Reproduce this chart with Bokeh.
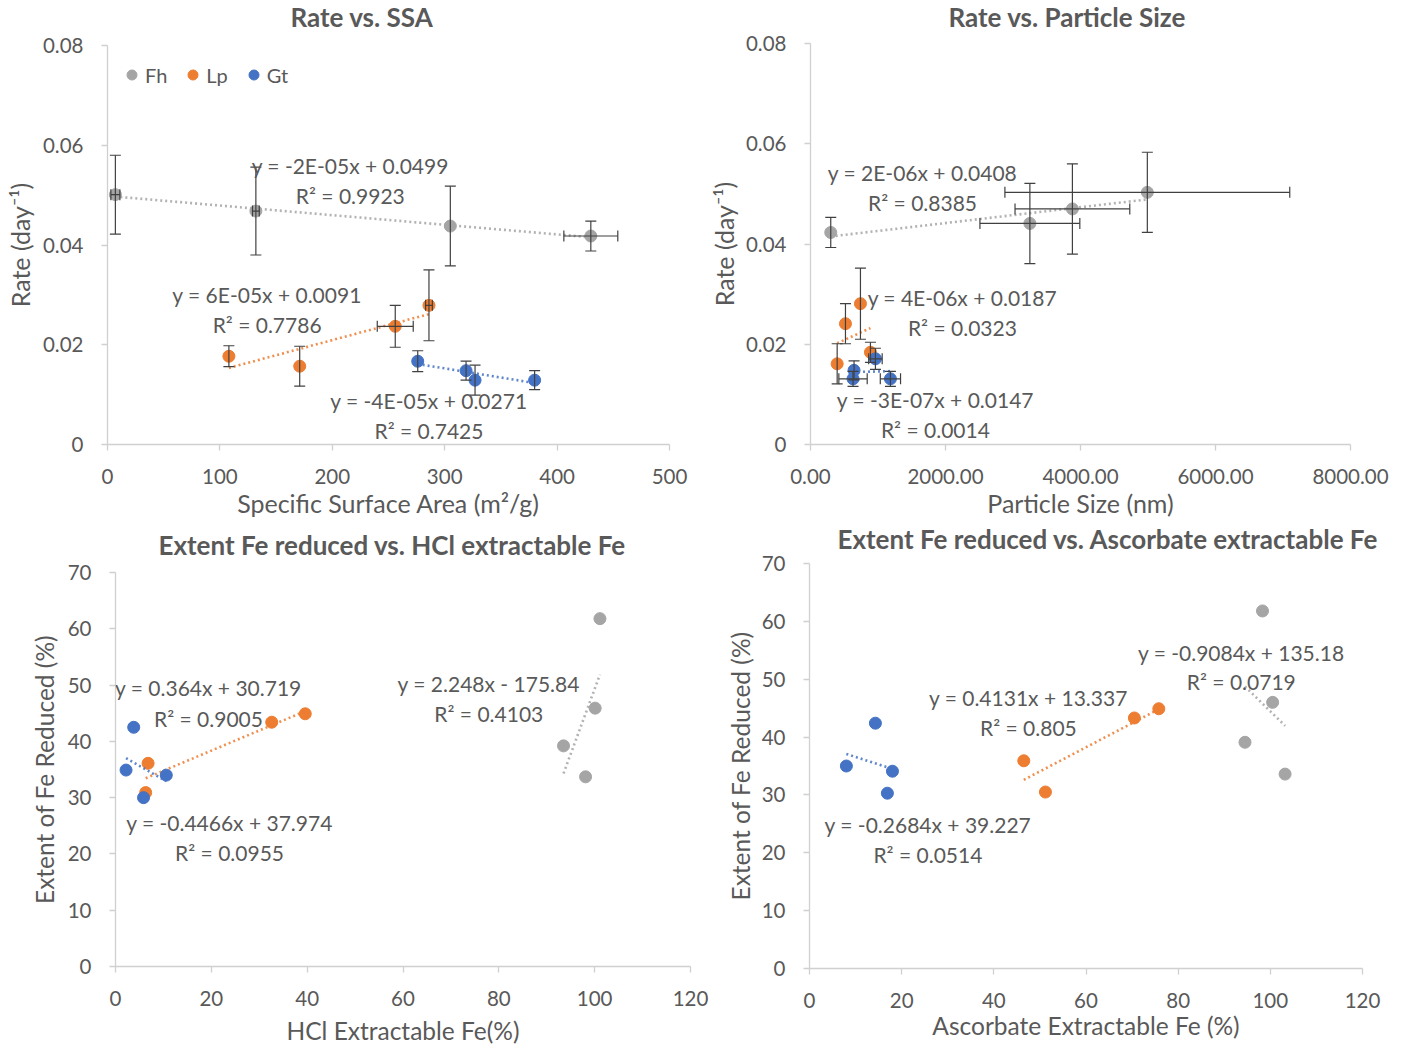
import numpy as np
from bokeh.plotting import figure
from bokeh.models import (ColumnDataSource, Whisker, TeeHead, Label, Legend, LegendItem,
                          FixedTicker, NumeralTickFormatter, Range1d, Title)
from bokeh.layouts import column, row
from bokeh.embed import file_html
from bokeh.resources import INLINE

FONT = "Lato"
C_FH, C_LP, C_GT = "#A5A5A5", "#ED7D31", "#4472C4"
TXT, AXC, ERR = "#595959", "#D0D0D0", "#404040"

# ---------------- data ----------------
series_names = ["Fh", "Lp", "Gt"]

# Panel 1: Rate vs SSA
ssa_fh = [7, 132, 305, 430]
rate_fh = [0.0501, 0.0468, 0.0438, 0.0418]
rate_fh_err = [0.0079, 0.0088, 0.0080, 0.0030]
ssa_fh_err = [4, 3, 0, 24]
ssa_lp = [108, 171, 256, 286]
rate_lp = [0.0177, 0.0157, 0.0237, 0.0279]
rate_lp_err = [0.0021, 0.0040, 0.0042, 0.0071]
ssa_lp_err = [0, 0, 16, 3]
ssa_gt = [276, 319, 327, 380]
rate_gt = [0.0167, 0.0148, 0.0129, 0.0129]
rate_gt_err = [0.0021, 0.0019, 0.0030, 0.0019]
ssa_gt_err = [0, 0, 0, 0]

# Panel 2: Rate vs particle size
size_fh = [300, 3250, 3880, 4990]
rate2_fh = [0.0423, 0.0441, 0.0470, 0.0503]
rate2_fh_err = [0.0030, 0.0080, 0.0090, 0.0080]
size_fh_err = [0, 740, 850, 2110]
size_lp = [395, 518, 740, 888]
rate2_lp = [0.0161, 0.0241, 0.0281, 0.0184]
rate2_lp_err = [0.0040, 0.0040, 0.0071, 0.0020]
size_lp_err = [0, 0, 0, 0]
size_gt = [630, 645, 962, 1184]
rate2_gt = [0.0131, 0.0148, 0.0171, 0.0131]
rate2_gt_err = [0.0015, 0.0019, 0.0021, 0.0015]
size_gt_err = [210, 0, 100, 150]

# Panel 3: extent reduced vs HCl extractable Fe
hcl_fh = [93.5, 98.1, 100.1, 101.1]
ext3_fh = [39.2, 33.7, 45.9, 61.8]
hcl_lp = [6.3, 6.8, 32.6, 39.6]
ext3_lp = [30.9, 36.1, 43.4, 44.9]
hcl_gt = [2.2, 3.8, 5.85, 10.6]
ext3_gt = [34.9, 42.5, 30.0, 34.0]

# Panel 4: extent reduced vs ascorbate extractable Fe
asc_fh = [94.5, 98.3, 100.5, 103.2]
ext4_fh = [39.1, 61.8, 46.0, 33.6]
asc_lp = [46.5, 51.2, 70.5, 75.8]
ext4_lp = [35.9, 30.5, 43.3, 44.9]
asc_gt = [8.0, 14.3, 16.9, 18.0]
ext4_gt = [35.0, 42.4, 30.3, 34.1]

# trendline equation texts
eq1 = [("y = -2E-05x + 0.0499", "R\u00b2 = 0.9923"), ("y = 6E-05x + 0.0091", "R\u00b2 = 0.7786"),
       ("y = -4E-05x + 0.0271", "R\u00b2 = 0.7425")]
eq2 = [("y = 2E-06x + 0.0408", "R\u00b2 = 0.8385"), ("y = 4E-06x + 0.0187", "R\u00b2 = 0.0323"),
       ("y = -3E-07x + 0.0147", "R\u00b2 = 0.0014")]
eq3 = [("y = 2.248x - 175.84", "R\u00b2 = 0.4103"), ("y = 0.364x + 30.719", "R\u00b2 = 0.9005"),
       ("y = -0.4466x + 37.974", "R\u00b2 = 0.0955")]
eq4 = [("y = -0.9084x + 135.18", "R\u00b2 = 0.0719"), ("y = 0.4131x + 13.337", "R\u00b2 = 0.805"),
       ("y = -0.2684x + 39.227", "R\u00b2 = 0.0514")]

titles = ["Rate vs. SSA", "Rate vs. Particle Size", "Extent Fe reduced vs. HCl extractable Fe",
          "Extent Fe reduced vs. Ascorbate extractable Fe"]


def make_fig(width, height, borders, xr, yr, xticks, yticks, xlabel, ylabel, xfmt, yfmt,
             xstand, ystand, title, title_offset, spacer, label_size):
    l, r, t, b = borders
    p = figure(width=width, height=height, x_range=Range1d(*xr), y_range=Range1d(*yr),
               output_backend="svg", toolbar_location=None,
               min_border_left=l, min_border_right=r, min_border_top=t, min_border_bottom=b)
    p.title = Title(text=title, align="left", offset=title_offset, text_font=FONT,
                    text_font_size="26px", text_font_style="bold", text_color=TXT,
                    standoff=0, vertical_align="top")
    # thin spacer between the title and the plot frame
    p.add_layout(Title(text=" ", text_font_size="1px", standoff=spacer), "above")
    p.outline_line_color = None
    p.xgrid.visible = False
    p.ygrid.visible = False
    p.background_fill_color = "white"
    p.border_fill_color = "white"
    p.xaxis.ticker = FixedTicker(ticks=xticks)
    p.yaxis.ticker = FixedTicker(ticks=yticks)
    p.xaxis.formatter = NumeralTickFormatter(format=xfmt)
    p.yaxis.formatter = NumeralTickFormatter(format=yfmt)
    for ax in (p.xaxis[0], p.yaxis[0]):
        ax.axis_line_color = AXC
        ax.axis_line_width = 1.3
        ax.major_tick_line_color = AXC
        ax.major_tick_line_width = 1.3
        ax.major_tick_out = 6
        ax.major_tick_in = 0
        ax.minor_tick_line_color = None
        ax.major_label_text_font = FONT
        ax.major_label_text_font_size = "20.5px"
        ax.major_label_text_color = TXT
        ax.major_label_standoff = 18
        ax.axis_label_text_font = FONT
        ax.axis_label_text_font_size = label_size
        ax.axis_label_text_color = TXT
        ax.axis_label_text_font_style = "normal"
    p.xaxis.axis_label = xlabel
    p.yaxis.axis_label = ylabel
    p.xaxis.axis_label_standoff = xstand
    p.yaxis.axis_label_standoff = ystand
    return p


def add_series(p, xs, ys, color, xerr=None, yerr=None):
    src = ColumnDataSource(dict(x=xs, y=ys))
    r = p.scatter("x", "y", source=src, size=12, fill_color=color, line_color=color)
    head = dict(size=11, line_color=ERR, line_width=1.2)
    if yerr is not None:
        es = ColumnDataSource(dict(x=xs, lo=[a - e for a, e in zip(ys, yerr)],
                                   hi=[a + e for a, e in zip(ys, yerr)]))
        p.add_layout(Whisker(source=es, base="x", lower="lo", upper="hi", dimension="height",
                             line_color=ERR, line_width=1.2, level="annotation",
                             upper_head=TeeHead(**head), lower_head=TeeHead(**head)))
    if xerr is not None:
        xi = [i for i, e in enumerate(xerr) if e > 0]
        if xi:
            es = ColumnDataSource(dict(y=[ys[i] for i in xi],
                                       lo=[xs[i] - xerr[i] for i in xi],
                                       hi=[xs[i] + xerr[i] for i in xi]))
            p.add_layout(Whisker(source=es, base="y", lower="lo", upper="hi", dimension="width",
                                 line_color=ERR, line_width=1.2, level="annotation",
                                 upper_head=TeeHead(**head), lower_head=TeeHead(**head)))
    # linear trendline fitted to the data
    k, c = np.polyfit(xs, ys, 1)
    x0, x1 = min(xs), max(xs)
    p.line([x0, x1], [k * x0 + c, k * x1 + c], line_color=color, line_width=2.6,
           line_dash="2 3", line_alpha=0.85)
    return r


def add_text(p, x, y, text, size="21px"):
    p.add_layout(Label(x=x, y=y, text=text, text_align="center", text_baseline="middle",
                       text_font=FONT, text_font_size=size, text_color=TXT))


# ---------------- panel 1 ----------------
p1 = make_fig(700, 520, (107, 31, 45, 75), (0, 500), (0, 0.08), [0, 100, 200, 300, 400, 500],
              [0, 0.02, 0.04, 0.06, 0.08], "Specific Surface Area (m\u00b2/g)",
              "Rate (day\u207b\u00b9)", "0", "0.[00]", 1, 5, titles[0], 183, 8, "25px")
r_fh = add_series(p1, ssa_fh, rate_fh, C_FH, ssa_fh_err, rate_fh_err)
r_lp = add_series(p1, ssa_lp, rate_lp, C_LP, ssa_lp_err, rate_lp_err)
r_gt = add_series(p1, ssa_gt, rate_gt, C_GT, ssa_gt_err, rate_gt_err)
pos1 = [(216, 0.056, 0.050), (142, 0.030, 0.024), (286, 0.0088, 0.0028)]
for (a, b), (x, y1, y2) in zip(eq1, pos1):
    add_text(p1, x, y1, a)
    add_text(p1, x, y2, b)
leg = Legend(items=[LegendItem(label=n, renderers=[r]) for n, r in zip(series_names, [r_fh, r_lp, r_gt])],
             location=(12, 357), orientation="horizontal", border_line_color=None,
             background_fill_alpha=0, label_text_font=FONT, label_text_font_size="20px",
             label_text_color=TXT, glyph_width=25, glyph_height=25, label_standoff=1,
             spacing=13, padding=0, margin=0)
p1.add_layout(leg)

# ---------------- panel 2 ----------------
p2 = make_fig(705, 520, (110, 55, 43, 76), (0, 8000), (0, 0.08), [0, 2000, 4000, 6000, 8000],
              [0, 0.02, 0.04, 0.06, 0.08], "Particle Size (nm)", "Rate (day\u207b\u00b9)",
              "0.00", "0.[00]", 1, 4, titles[1], 138, 6, "25px")
add_series(p2, size_fh, rate2_fh, C_FH, size_fh_err, rate2_fh_err)
add_series(p2, size_lp, rate2_lp, C_LP, size_lp_err, rate2_lp_err)
add_series(p2, size_gt, rate2_gt, C_GT, size_gt_err, rate2_gt_err)
pos2 = [(1660, 0.0543, 0.0483), (2250, 0.0293, 0.0233), (1850, 0.0090, 0.0030)]
for (a, b), (x, y1, y2) in zip(eq2, pos2):
    add_text(p2, x, y1, a)
    add_text(p2, x, y2, b)

# ---------------- panel 3 ----------------
p3 = make_fig(722, 527, (115, 32, 52, 80), (0, 120), (0, 70), list(range(0, 121, 20)),
              list(range(0, 71, 10)), "HCl Extractable Fe(%)", "Extent of Fe Reduced (%)",
              "0", "0", 7, 6, titles[2], 43, 7, "24.5px")
add_series(p3, hcl_fh, ext3_fh, C_FH)
add_series(p3, hcl_lp, ext3_lp, C_LP)
add_series(p3, hcl_gt, ext3_gt, C_GT)
pos3 = [(77.9, 50.2, 44.9), (19.4, 49.5, 44.0), (23.8, 25.5, 20.2)]
for (a, b), (x, y1, y2) in zip(eq3, pos3):
    add_text(p3, x, y1, a)
    add_text(p3, x, y2, b)

# ---------------- panel 4 ----------------
p4 = make_fig(683, 527, (86, 43, 43, 79), (0, 120), (0, 70), list(range(0, 121, 20)),
              list(range(0, 71, 10)), "Ascorbate Extractable Fe (%)", "Extent of Fe Reduced (%)",
              "0", "0", 0, 4, titles[3], 28, 4, "24.5px")
add_series(p4, asc_fh, ext4_fh, C_FH)
add_series(p4, asc_lp, ext4_lp, C_LP)
add_series(p4, asc_gt, ext4_gt, C_GT)
pos4 = [(93.7, 54.7, 49.6), (47.5, 46.8, 41.6), (25.7, 24.9, 19.7)]
for (a, b), (x, y1, y2) in zip(eq4, pos4):
    add_text(p4, x, y1, a)
    add_text(p4, x, y2, b)

layout = column(row(column(p1), column(p2)), row(column(p3), column(p4)))
open("out.html", "w").write(file_html(layout, INLINE))
